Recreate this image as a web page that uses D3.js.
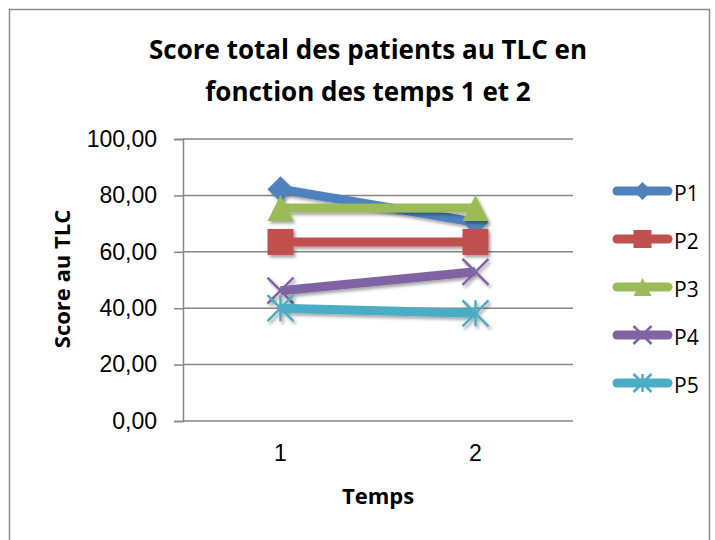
<!DOCTYPE html>
<html>
<head>
<meta charset="utf-8">
<script src="https://cdn.jsdelivr.net/npm/d3@7"></script>
<style>
  body { margin: 0; background: #fff; }
  svg { display: block; font-family: "Open Sans", sans-serif; }
</style>
</head>
<body>
<div id="viz"></div>
<script>
const temps = ["1", "2"];
const seriesNames = ["P1", "P2", "P3", "P4", "P5"];
const p1 = [82.2, 70.5];
const p2 = [63.5, 63.5];
const p3 = [75.5, 75.5];
const p4 = [46.2, 52.9];
const p5 = [40.0, 38.2];
const yTicks = [0, 20, 40, 60, 80, 100];
const colors = ["#4F81BD", "#C0504D", "#9BBB59", "#8064A2", "#4BACC6"];
const markers = ["diamond", "square", "triangle", "x", "star"];

const allValues = [p1, p2, p3, p4, p5];

const width = 715, height = 540;
const plot = {left: 183, right: 573, top: 139, bottom: 421};

const svg = d3.select("#viz")
  .append("svg")
    .attr("width", width)
    .attr("height", height);

const defs = svg.append("defs");
const shadow = defs.append("filter")
  .attr("id", "shadow")
  .attr("x", "-30%").attr("y", "-30%")
  .attr("width", "160%").attr("height", "160%");
shadow.append("feDropShadow")
  .attr("dx", 2).attr("dy", 2.5)
  .attr("stdDeviation", 1.6)
  .attr("flood-color", "#000")
  .attr("flood-opacity", 0.35);

// chart frame
svg.append("rect")
  .attr("x", 9.5).attr("y", 9.5)
  .attr("width", 700).attr("height", 560)
  .attr("fill", "none")
  .attr("stroke", "#8c8c8c")
  .attr("stroke-width", 1.5);

const x = d3.scaleBand()
  .domain(temps)
  .range([plot.left, plot.right]);

const y = d3.scaleLinear()
  .domain([0, 100])
  .range([plot.bottom, plot.top]);

const fmt = v => d3.format(".2f")(v).replace(".", ",");

// gridlines + y axis
svg.append("g")
  .attr("transform", `translate(${plot.left},0)`)
  .call(d3.axisLeft(y).tickValues(yTicks).tickSize(9).tickPadding(17).tickFormat(fmt))
  .call(g => g.select(".domain").attr("stroke", "#868686").attr("stroke-width", 1.5))
  .call(g => g.selectAll(".tick line").attr("stroke", "#868686").attr("stroke-width", 1.5))
  .call(g => g.selectAll(".tick text")
    .attr("fill", "#000")
    .style("font-size", "23px"));

svg.append("g")
  .selectAll("line")
  .data(yTicks)
  .join("line")
    .attr("x1", plot.left)
    .attr("x2", plot.right)
    .attr("y1", d => y(d))
    .attr("y2", d => y(d))
    .attr("stroke", "#868686")
    .attr("stroke-width", 1.5);

// x axis labels
svg.append("g")
  .attr("transform", `translate(0,${plot.bottom})`)
  .call(d3.axisBottom(x).tickSize(0).tickPadding(24))
  .call(g => g.select(".domain").remove())
  .call(g => g.selectAll(".tick text")
    .attr("fill", "#000")
    .style("font-size", "23px"));

// titles
const title = svg.append("text")
  .attr("text-anchor", "middle")
  .style("font-size", "26px")
  .style("font-weight", "bold");
title.append("tspan").attr("x", 368).attr("y", 59).text("Score total des patients au TLC en");
title.append("tspan").attr("x", 368).attr("y", 101).text("fonction des temps 1 et 2");

svg.append("text")
  .attr("x", 378)
  .attr("y", 504)
  .attr("text-anchor", "middle")
  .style("font-size", "22px")
  .style("font-weight", "bold")
  .text("Temps");

svg.append("text")
  .attr("transform", "translate(70,279) rotate(-90)")
  .attr("text-anchor", "middle")
  .style("font-size", "22px")
  .style("font-weight", "bold")
  .text("Score au TLC");

function drawMarker(g, type, cx, cy, size, color) {
  const h = size / 2;
  if (type === "diamond") {
    g.append("path")
      .attr("d", `M${cx},${cy - h}L${cx + h},${cy}L${cx},${cy + h}L${cx - h},${cy}Z`)
      .attr("fill", color);
  } else if (type === "square") {
    g.append("rect")
      .attr("x", cx - h).attr("y", cy - h)
      .attr("width", size).attr("height", size)
      .attr("fill", color);
  } else if (type === "triangle") {
    g.append("path")
      .attr("d", `M${cx},${cy - h}L${cx + h},${cy + h}L${cx - h},${cy + h}Z`)
      .attr("fill", color);
  } else if (type === "x") {
    g.append("path")
      .attr("d", `M${cx - h},${cy - h}L${cx + h},${cy + h}M${cx + h},${cy - h}L${cx - h},${cy + h}`)
      .attr("stroke", color).attr("stroke-width", 2.5).attr("fill", "none");
  } else {
    g.append("path")
      .attr("d", `M${cx - h},${cy - h}L${cx + h},${cy + h}M${cx + h},${cy - h}L${cx - h},${cy + h}M${cx},${cy - h}L${cx},${cy + h}`)
      .attr("stroke", color).attr("stroke-width", 2.5).attr("fill", "none");
  }
}

const line = d3.line()
  .x((d, i) => x(temps[i]) + x.bandwidth() / 2)
  .y(d => y(d));

allValues.forEach((vals, s) => {
  const g = svg.append("g").attr("filter", "url(#shadow)");
  g.append("path")
    .datum(vals)
    .attr("d", line)
    .attr("fill", "none")
    .attr("stroke", colors[s])
    .attr("stroke-width", 9)
    .attr("stroke-linejoin", "round");
  vals.forEach((v, i) => {
    drawMarker(g, markers[s], x(temps[i]) + x.bandwidth() / 2, y(v), 26, colors[s]);
  });
});

// legend
const legend = svg.append("g");
seriesNames.forEach((name, i) => {
  const ly = 191 + i * 48;
  const g = legend.append("g");
  g.append("line")
    .attr("x1", 617).attr("x2", 668)
    .attr("y1", ly).attr("y2", ly)
    .attr("stroke", colors[i])
    .attr("stroke-width", 9)
    .attr("stroke-linecap", "round");
  drawMarker(g, markers[i], 642.5, ly, 18, colors[i]);
  g.append("text")
    .attr("x", 674)
    .attr("y", ly + 10)
    .style("font-size", "21px")
    .text(name);
});
</script>
</body>
</html>
